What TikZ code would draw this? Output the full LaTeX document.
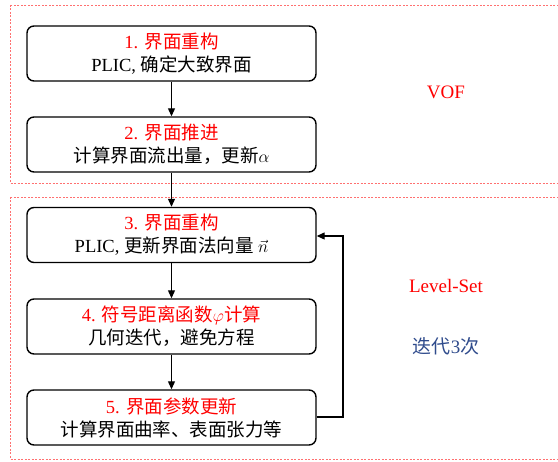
\documentclass[tikz,border=0pt]{standalone}
\usepackage{fontspec}
\setmainfont{Liberation Serif}
\newfontfamily\cjk{Noto Sans CJK SC}
\usetikzlibrary{arrows.meta}
\definecolor{dashred}{HTML}{FF7070}
\definecolor{iterblue}{HTML}{2F4B8C}
\begin{document}
\begin{tikzpicture}[x=1pt,y=-1pt,
  stepbox/.style={draw, line width=1.4pt, rounded corners=7pt, minimum width=289pt,
    minimum height=55pt, align=center, inner sep=0pt,
    font=\fontsize{18.5}{23}\selectfont},
  flow/.style={line width=1.2pt, -{Triangle[length=8pt,width=7pt]}},
  region/.style={draw=dashred, dashed, dash pattern=on 2pt off 1.5pt, line width=0.8pt},
  label/.style={font=\fontsize{19}{22}\selectfont, inner sep=0pt}]
\clip (0,0) rectangle (558,462);
\path[use as bounding box] (0,0) rectangle (558,462);
\draw[region] (10,5) rectangle (570,183);
\draw[region] (10,197) rectangle (570,459);

\node[stepbox] (s1) at (171.5,53.5) {{\color{red}1. {\cjk 界面重构}}\\PLIC, {\cjk 确定大致界面}};
\node[stepbox] (s2) at (171.5,144.5) {{\color{red}2. {\cjk 界面推进}}\\{\cjk 计算界面流出量，更新}$\alpha$};
\node[stepbox] (s3) at (171.5,235) {{\color{red}3. {\cjk 界面重构}}\\PLIC, {\cjk 更新界面法向量} $\vec{n}$};
\node[stepbox] (s4) at (171.5,326.5) {{\color{red}4. {\cjk 符号距离函数}$\varphi${\cjk 计算}}\\{\cjk 几何迭代，避免方程}};
\node[stepbox] (s5) at (171.5,417.5) {{\color{red}5. {\cjk 界面参数更新}}\\{\cjk 计算界面曲率、表面张力等}};

\draw[flow] (s1) -- (s2);
\draw[flow] (s2) -- (s3);
\draw[flow] (s3) -- (s4);
\draw[flow] (s4) -- (s5);
\coordinate (loopA) at (343,417);
\coordinate (loopB) at (343,236);
\draw[flow] (s5.east |- loopA) -- (loopA) -- (loopB) -- (s3.east |- loopB);

\node[label, text=red] (vof) at (446,92) {VOF};
\node[label, text=red] (ls) at (446,286) {Level-Set};
\node[label, text=iterblue] (iter) at (446,346) {{\cjk 迭代}3{\cjk 次}};
\end{tikzpicture}
\end{document}
